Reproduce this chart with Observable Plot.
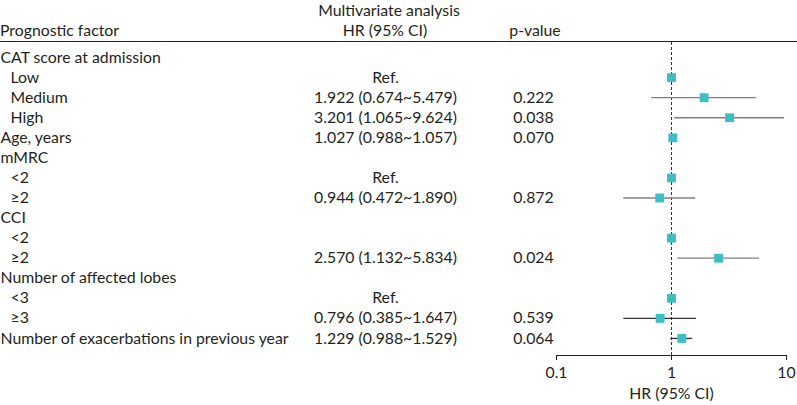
<!DOCTYPE html>
<html><head><meta charset="utf-8">
<script src="https://cdn.jsdelivr.net/npm/d3@7"></script>
<script src="https://cdn.jsdelivr.net/npm/@observablehq/plot@0.6"></script>
<style>
body{margin:0;background:#fff;font-family:Lato,sans-serif;color:#231f20}
#wrap{position:relative;width:797px;height:405px;overflow:hidden}
#head{position:relative;height:41px;border-bottom:1px solid #231f20;font-size:15.8px}
#head span{position:absolute;white-space:nowrap;transform:translate(-50%,-50%)}
#chart svg{display:block}
</style></head>
<body><div id="wrap"><div id="head"></div><div id="chart"></div></div>
<script>
const labels = ["CAT score at admission","Low","Medium","High","Age, years","mMRC","<2","≥2","CCI","<2","≥2","Number of affected lobes","<3","≥3","Number of exacerbations in previous year"];
const indent = [0,1,1,1,0,0,1,1,0,1,1,0,1,1,0];
const hrText = ["","Ref.","1.922 (0.674~5.479)","3.201 (1.065~9.624)","1.027 (0.988~1.057)","","Ref.","0.944 (0.472~1.890)","","","2.570 (1.132~5.834)","","Ref.","0.796 (0.385~1.647)","1.229 (0.988~1.529)"];
const pText = ["","","0.222","0.038","0.070","","","0.872","","","0.024","","","0.539","0.064"];
// plotted values as drawn in the picture (mMRC ≥2 row is drawn at ~0.79 (0.38–1.6))
const hr = [null,1,1.922,3.201,1.027,null,1,0.79,null,1,2.570,null,1,0.796,1.229];
const lo = [null,null,0.674,1.065,0.988,null,null,0.385,null,null,1.132,null,null,0.385,0.988];
const hi = [null,null,5.479,9.624,1.057,null,null,1.62,null,null,5.834,null,null,1.647,1.529];
const xTicks = [0.1, 1, 10];
const headers = [
  {text:"Prognostic factor", left:0, top:29, anchor:"start"},
  {text:"Multivariate analysis", left:389, top:9, anchor:"middle"},
  {text:"HR (95% CI)", left:385, top:29, anchor:"middle"},
  {text:"p-value", left:535, top:29, anchor:"middle"}
];

const head = document.getElementById("head");
for (const h of headers) {
  const s = document.createElement("span");
  s.textContent = h.text;
  s.style.left = h.left + "px";
  s.style.top = h.top + "px";
  if (h.anchor === "start") s.style.transform = "translate(0,-50%)";
  head.appendChild(s);
}

const rows = labels.map((label, i) => ({i, label, indent: indent[i], hrText: hrText[i], pText: pText[i], hr: hr[i], lo: lo[i], hi: hi[i]}));
const darkRows = new Set(["≥3", "Number of exacerbations in previous year"]);

const chart = Plot.plot({
  width: 797, height: 363,
  marginLeft: 556, marginRight: 11, marginTop: 0, marginBottom: 50,
  style: {fontFamily: "Lato, sans-serif", fontSize: "15.8px", color: "#231f20", background: "#fff", overflow: "visible"},
  x: {type: "log", domain: [0.1, 10], ticks: xTicks, tickFormat: d => String(d), tickSize: 5, tickPadding: 6,
      label: "HR (95% CI)", labelAnchor: "center", labelArrow: "none", labelOffset: 43},
  y: {domain: [-0.75, 14.85], reverse: true, axis: null},
  marks: [
    Plot.ruleX([1], {stroke: "#333", strokeDasharray: "3,2"}),
    Plot.frame({anchor: "bottom", stroke: "#231f20"}),
    Plot.ruleY(rows.filter(d => d.lo != null), {y: "i", x1: "lo", x2: "hi", stroke: d => darkRows.has(d.label) ? "#333" : "#808080", strokeWidth: 1.3}),
    Plot.dot(rows.filter(d => d.hr != null), {x: "hr", y: "i", symbol: "square", r: 5, fill: "#3bbfc5"}),
    Plot.text(rows.filter(d => !d.indent), {y: "i", text: "label", frameAnchor: "left", textAnchor: "start", dx: -556, fill: "#231f20"}),
    Plot.text(rows.filter(d => d.indent), {y: "i", text: "label", frameAnchor: "left", textAnchor: "start", dx: -546, fill: "#231f20"}),
    Plot.text(rows, {y: "i", text: "hrText", frameAnchor: "left", textAnchor: "middle", dx: -171, fill: "#231f20"}),
    Plot.text(rows, {y: "i", text: "pText", frameAnchor: "left", textAnchor: "middle", dx: -23, fill: "#231f20"})
  ]
});
document.getElementById("chart").appendChild(chart);
</script>
</body></html>
